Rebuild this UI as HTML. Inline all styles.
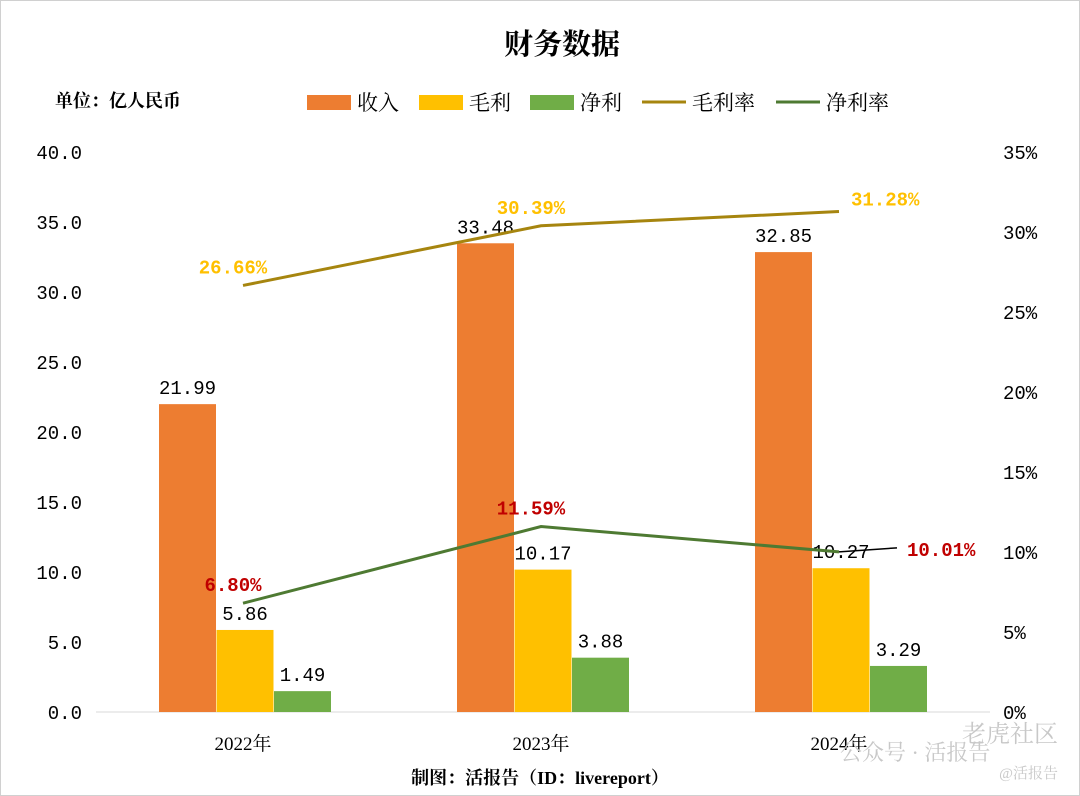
<!DOCTYPE html>
<html><head><meta charset="utf-8"><style>
body{margin:0;background:#fff}
svg{display:block}
text{font-family:"Liberation Mono","Noto Serif CJK SC",monospace}
.cj{font-family:"Liberation Serif","Noto Serif CJK SC",serif}
</style></head><body>
<svg id="c" width="1080" height="796" xmlns="http://www.w3.org/2000/svg">
<rect x="0.5" y="0.5" width="1079" height="795" fill="#fff" stroke="#d0d0d0"/>
<text x="562" y="54" text-anchor="middle" font-size="29" font-weight="bold" class="cj">财务数据</text>
<text x="55" y="107" font-size="18" font-weight="bold" class="cj">单位：亿人民币</text>
<g id="legend"></g>
<g id="axes"></g><g id="bars"></g><g id="lines"></g>
<text x="540" y="784" text-anchor="middle" font-size="18" font-weight="bold" class="cj">制图：活报告（ID：livereport）</text>
<text x="1058" y="742" text-anchor="end" font-size="24" fill="#c8c8c8" class="cj">老虎社区</text>
<text x="840" y="760" font-size="22" fill="#c8c8c8" class="cj">公众号 · 活报告</text>
<text x="1058" y="778" text-anchor="end" font-size="15" fill="#c8c8c8" class="cj">@活报告</text>
</svg>
<script>
const categories=["2022年","2023年","2024年"];
const revenue=[21.99,33.48,32.85];
const grossProfit=[5.86,10.17,10.27];
const netProfit=[1.49,3.88,3.29];
const grossMargin=[26.66,30.39,31.28];
const netMargin=[6.80,11.59,10.01];
const leftTicks=[0,5,10,15,20,25,30,35,40];
const rightTicks=[0,5,10,15,20,25,30,35];
const NS="http://www.w3.org/2000/svg";
function mk(t,a,p,txt){const e=document.createElementNS(NS,t);for(const k in a)e.setAttribute(k,a[k]);if(txt!==undefined)e.textContent=txt;p.appendChild(e);return e;}
const x0=96,plotW=894,y0=712,yTop=152;
const yL=v=>y0-(v/40)*(y0-yTop);
const yR=v=>y0-(v/35)*(y0-yTop);
const bw=plotW/categories.length;
const cx=i=>x0+bw*(i+0.5)-2;
const axes=document.getElementById('axes'),bars=document.getElementById('bars'),lines=document.getElementById('lines'),leg=document.getElementById('legend');
let e=mk('line',{x1:x0,x2:x0+plotW,y1:y0,y2:y0,stroke:'#d9d9d9'},axes);

leftTicks.forEach(v=>{const t=mk('text',{x:82,y:yL(v)+7,'text-anchor':'end','font-size':19},axes,v.toFixed(1));
});
rightTicks.forEach(v=>{const t=mk('text',{x:1003,y:yR(v)+7,'font-size':19},axes,v+'%');
});
categories.forEach((c,i)=>{const t=mk('text',{x:cx(i),y:750,'text-anchor':'middle','font-size':19,class:'cj'},axes,c);
});
const series=[[revenue,'#ED7D31','revenue'],[grossProfit,'#FFC000','gross-profit'],[netProfit,'#70AD47','net-profit']];
const w=57;
categories.forEach((c,i)=>{series.forEach((s,j)=>{const v=s[0][i];const x=cx(i)-84+j*57.5;
const r=mk('rect',{x:x,y:yL(v),width:w,height:y0-yL(v),fill:s[1]},bars);

const t=mk('text',{x:x+w/2,y:yL(v)-10,'text-anchor':'middle','font-size':19},bars,v.toFixed(2));
});});
function line(arr,col,name,lc){const p=mk('polyline',{points:arr.map((v,i)=>cx(i)+','+yR(v)).join(' '),fill:'none',stroke:col,'stroke-width':3},lines);

arr.forEach((v,i)=>{let x=cx(i)-10,y=yR(v)-12,a='middle';
if(i===2){x=cx(i)+12;y=yR(v)-6;a='start';if(name==='net-margin'){mk('line',{x1:cx(i),y1:yR(v),x2:cx(i)+58,y2:yR(v)-4,stroke:'#000','stroke-width':1.5},lines);x=cx(i)+68;y=yR(v)+4;}}
const t=mk('text',{x:x,y:y,'text-anchor':a,'font-size':19,'font-weight':'bold',fill:lc},lines,v.toFixed(2)+'%');
});}
line(grossMargin,'#A6850F','gross-margin','#FFC000');
line(netMargin,'#4E7A32','net-margin','#C00000');
const li=[['收入','#ED7D31',0,307],['毛利','#FFC000',0,419],['净利','#70AD47',0,530],['毛利率','#A6850F',1,642],['净利率','#4E7A32',1,776]];
li.forEach(l=>{let m;if(l[2])m=mk('line',{x1:l[3],x2:l[3]+44,y1:102,y2:102,stroke:l[1],'stroke-width':3},leg);
else m=mk('rect',{x:l[3],y:95,width:44,height:15,fill:l[1]},leg);

const t=mk('text',{x:l[3]+50,y:110,'font-size':21,class:'cj'},leg,l[0]);
});
</script>
</body></html>
